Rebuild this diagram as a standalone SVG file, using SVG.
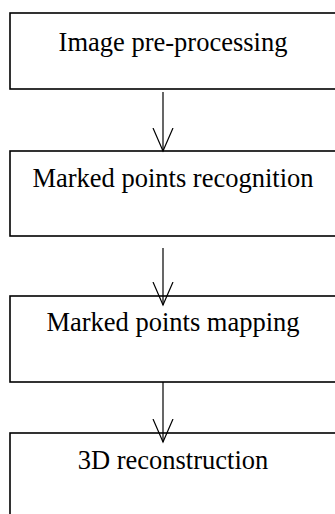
<svg xmlns="http://www.w3.org/2000/svg" width="335" height="514" viewBox="0 0 335 514">
  <style>
    .box { fill: #ffffff; stroke: #000000; stroke-width: 1.6; }
    .label { font-family: "Liberation Serif", "Times New Roman", serif; font-size: 26.5px; fill: #000000; text-anchor: middle; }
    .conn { stroke: #000000; stroke-width: 1.2; fill: none; }
  </style>
  <defs>
    <marker id="vhead" viewBox="0 0 25 22" refX="23.5" refY="11" markerWidth="25" markerHeight="22" markerUnits="userSpaceOnUse" orient="auto">
      <path d="M0.5,1 L23.5,11 L0.5,21" fill="none" stroke="#000000" stroke-width="1.2"/>
    </marker>
  </defs>
  <rect width="335" height="514" fill="#ffffff"/>
  <g id="node-preprocessing">
    <rect class="box" x="10" y="13" width="330" height="76"/>
    <text class="label" x="173" y="51">Image pre-processing</text>
  </g>
  <g id="node-recognition">
    <rect class="box" x="10" y="151" width="330" height="85"/>
    <text class="label" x="173" y="187">Marked points recognition</text>
  </g>
  <g id="node-mapping">
    <rect class="box" x="10" y="296" width="330" height="86"/>
    <text class="label" x="173" y="331">Marked points mapping</text>
  </g>
  <g id="node-reconstruction">
    <rect class="box" x="10" y="433" width="330" height="100"/>
    <text class="label" x="173" y="469">3D reconstruction</text>
  </g>
  <g id="connectors">
    <line class="conn" x1="163" y1="92" x2="163" y2="151" marker-end="url(#vhead)"/>
    <line class="conn" x1="163" y1="248" x2="163" y2="305" marker-end="url(#vhead)"/>
    <line class="conn" x1="163" y1="382" x2="163" y2="442" marker-end="url(#vhead)"/>
  </g>
</svg>
